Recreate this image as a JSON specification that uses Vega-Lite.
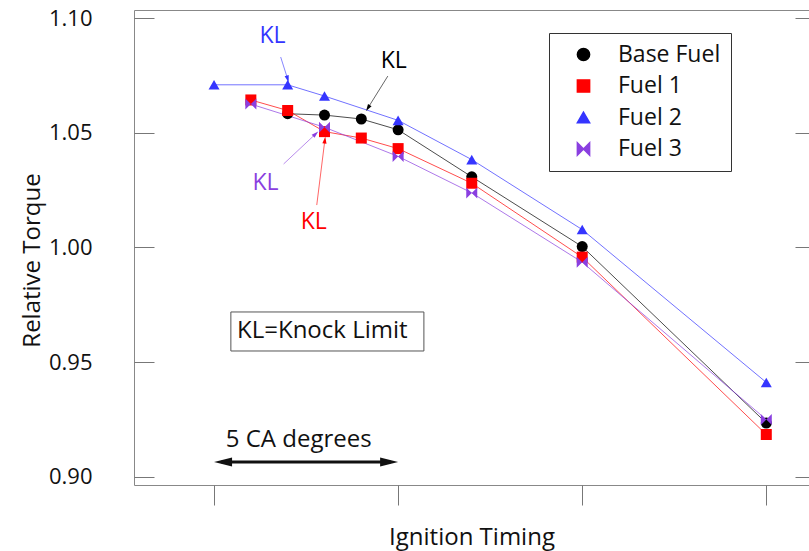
{
  "$schema": "https://vega.github.io/schema/vega-lite/v6.json",
  "width": 675,
  "height": 475,
  "autosize": {"type": "none"},
  "padding": {"left": 134, "top": 10, "right": 0, "bottom": 66},
  "background": "white",
  "config": {
    "font": "Open Sans",
    "view": {"stroke": "#888888", "strokeWidth": 1},
    "axis": {"labelFont": "Open Sans", "titleFont": "Open Sans", "labelColor": "#111", "titleColor": "#111", "titleFontWeight": "normal", "grid": false, "domain": false, "tickColor": "#777777", "tickWidth": 1},
    "legend": {
      "orient": "none", "legendX": 415, "legendY": 23,
      "strokeColor": "#333333", "fillColor": "white", "padding": 10,
      "labelFont": "Open Sans", "labelFontSize": 23, "labelColor": "#111",
      "symbolSize": 150, "symbolOffset": 13, "labelOffset": 23, "rowPadding": 7.5, "symbolOpacity": 1
    }
  },
  "datasets": {
    "curves": [
      {"fuel": "Base Fuel", "t": 2, "v": 1.0583},
      {"fuel": "Base Fuel", "t": 3, "v": 1.0577},
      {"fuel": "Base Fuel", "t": 4, "v": 1.0560},
      {"fuel": "Base Fuel", "t": 5, "v": 1.0513},
      {"fuel": "Base Fuel", "t": 7, "v": 1.0308},
      {"fuel": "Base Fuel", "t": 10, "v": 1.0004},
      {"fuel": "Base Fuel", "t": 15, "v": 0.9235},
      {"fuel": "Fuel 1", "t": 1, "v": 1.0643},
      {"fuel": "Fuel 1", "t": 2, "v": 1.0597},
      {"fuel": "Fuel 1", "t": 3, "v": 1.0505},
      {"fuel": "Fuel 1", "t": 4, "v": 1.0477},
      {"fuel": "Fuel 1", "t": 5, "v": 1.0431},
      {"fuel": "Fuel 1", "t": 7, "v": 1.0280},
      {"fuel": "Fuel 1", "t": 10, "v": 0.9958},
      {"fuel": "Fuel 1", "t": 15, "v": 0.9185},
      {"fuel": "Fuel 2", "t": 0, "v": 1.0709},
      {"fuel": "Fuel 2", "t": 2, "v": 1.0709},
      {"fuel": "Fuel 2", "t": 3, "v": 1.0660},
      {"fuel": "Fuel 2", "t": 5, "v": 1.0554},
      {"fuel": "Fuel 2", "t": 7, "v": 1.0383},
      {"fuel": "Fuel 2", "t": 10, "v": 1.0078},
      {"fuel": "Fuel 2", "t": 15, "v": 0.9412},
      {"fuel": "Fuel 3", "t": 1, "v": 1.0625},
      {"fuel": "Fuel 3", "t": 3, "v": 1.0524},
      {"fuel": "Fuel 3", "t": 5, "v": 1.0397},
      {"fuel": "Fuel 3", "t": 7, "v": 1.0238},
      {"fuel": "Fuel 3", "t": 10, "v": 0.9936},
      {"fuel": "Fuel 3", "t": 15, "v": 0.9250}
    ],
    "kl_text": [
      {"fuel": "Fuel 2", "label": "KL", "t": 1.59, "v": 1.0922},
      {"fuel": "Base Fuel", "label": "KL", "t": 4.88, "v": 1.0813},
      {"fuel": "Fuel 3", "label": "KL", "t": 1.40, "v": 1.0281},
      {"fuel": "Fuel 1", "label": "KL", "t": 2.71, "v": 1.0111}
    ],
    "kl_arrows": [
      {"fuel": "Fuel 2", "t": 1.81, "v": 1.0830, "t2": 2.00, "v2": 1.0734, "angle": 163},
      {"fuel": "Base Fuel", "t": 4.72, "v": 1.0747, "t2": 4.18, "v2": 1.0608, "angle": 212},
      {"fuel": "Fuel 3", "t": 1.89, "v": 1.0364, "t2": 2.76, "v2": 1.0495, "angle": 47},
      {"fuel": "Fuel 1", "t": 2.79, "v": 1.0185, "t2": 3.01, "v2": 1.0468, "angle": 7}
    ],
    "notes": [
      {"label": "KL=Knock Limit", "t": 2.94, "v": 0.9634},
      {"label": "5 CA degrees", "t": 2.3, "v": 0.9161}
    ],
    "note_box": [
      {"t": 0.457, "t2": 5.70, "v": 0.9719, "v2": 0.9549}
    ],
    "ca_span": [
      {"t": 0.2, "t2": 4.8, "v": 0.9065}
    ],
    "ca_heads": [
      {"t": 0.245, "v": 0.9065, "angle": 0},
      {"t": 4.755, "v": 0.9065, "angle": 180}
    ]
  },
  "encoding": {
    "x": {"field": "t", "type": "quantitative", "scale": {"domain": [-2.174, 16.16], "nice": false, "zero": false}, "axis": null},
    "y": {"field": "v", "type": "quantitative", "scale": {"domain": [0.8965, 1.1035], "nice": false, "zero": false}, "axis": null}
  },
  "layer": [
    {
      "data": {"name": "curves"},
      "mark": {"type": "line", "strokeWidth": 1, "opacity": 0.7},
      "encoding": {
        "x": {"field": "t", "type": "quantitative", "scale": {"domain": [-2.174, 16.16], "nice": false, "zero": false},
          "axis": {"values": [0, 5, 10, 15], "labels": false, "tickSize": 20, "title": "Ignition Timing", "titleFontSize": 24, "titlePadding": 20}},
        "y": {"field": "v", "type": "quantitative", "scale": {"domain": [0.8965, 1.1035], "nice": false, "zero": false},
          "axis": {"values": [0.9, 0.95, 1.0, 1.05, 1.1], "format": ".2f", "tickSize": -20, "labelPadding": 62, "labelFontSize": 22, "title": "Relative Torque", "titleFontSize": 24, "titleX": -102, "titleY": 250, "titleBaseline": "middle", "titleAlign": "center", "titleAngle": -90}},
        "color": {"field": "fuel", "type": "nominal",
          "scale": {"domain": ["Base Fuel", "Fuel 1", "Fuel 2", "Fuel 3"], "range": ["#000000", "#ff0000", "#3535ff", "#8a3fe0"]},
          "legend": {"title": null}},
        "detail": {"field": "fuel"}
      }
    },
    {
      "data": {"name": "curves"},
      "mark": {"type": "point", "filled": true, "opacity": 1, "size": 121},
      "encoding": {
        "y": {"field": "v", "type": "quantitative", "scale": {"domain": [0.8965, 1.1035], "nice": false, "zero": false},
          "axis": {"orient": "right", "values": [0.9, 0.95, 1.0, 1.05, 1.1], "labels": false, "tickSize": -14, "title": null}},
        "color": {"field": "fuel", "type": "nominal"},
        "shape": {"field": "fuel", "type": "nominal", "legend": null,
          "scale": {"domain": ["Base Fuel", "Fuel 1", "Fuel 2", "Fuel 3"], "range": ["circle", "square", "triangle-up", "M-1,-1L0,0L-1,1ZM1,-1L0,0L1,1Z"]}}
      }
    },
    {
      "data": {"name": "kl_arrows"},
      "mark": {"type": "rule", "strokeWidth": 1, "opacity": 0.6},
      "encoding": {
        "x2": {"field": "t2"},
        "y2": {"field": "v2"},
        "color": {"field": "fuel", "type": "nominal"}
      }
    },
    {
      "data": {"name": "kl_arrows"},
      "mark": {"type": "point", "filled": true, "opacity": 1, "size": 49, "shape": "M0,-1L0.6,1L-0.6,1Z"},
      "encoding": {
        "x": {"field": "t2", "type": "quantitative", "scale": {"domain": [-2.174, 16.16], "nice": false, "zero": false}, "axis": null},
        "y": {"field": "v2", "type": "quantitative", "scale": {"domain": [0.8965, 1.1035], "nice": false, "zero": false}, "axis": null},
        "angle": {"field": "angle", "type": "quantitative", "scale": null},
        "color": {"field": "fuel", "type": "nominal"}
      }
    },
    {
      "data": {"name": "kl_text"},
      "mark": {"type": "text", "fontSize": 23, "font": "Open Sans"},
      "encoding": {
        "text": {"field": "label"},
        "color": {"field": "fuel", "type": "nominal"}
      }
    },
    {
      "data": {"name": "note_box"},
      "mark": {"type": "rect", "fill": "white", "stroke": "#555555", "strokeWidth": 1},
      "encoding": {
        "x2": {"field": "t2"},
        "y2": {"field": "v2"}
      }
    },
    {
      "data": {"name": "notes"},
      "mark": {"type": "text", "fontSize": 24, "font": "Open Sans", "color": "#111"},
      "encoding": {"text": {"field": "label"}}
    },
    {
      "data": {"name": "ca_span"},
      "mark": {"type": "rule", "strokeWidth": 3, "color": "#111"},
      "encoding": {"x2": {"field": "t2"}}
    },
    {
      "data": {"name": "ca_heads"},
      "mark": {"type": "point", "filled": true, "opacity": 1, "size": 324, "color": "#111", "shape": "M-1,0L1,-0.5L1,0.5Z"},
      "encoding": {"angle": {"field": "angle", "type": "quantitative", "scale": null}}
    }
  ],
  "resolve": {"axis": {"x": "independent", "y": "independent"}}
}
